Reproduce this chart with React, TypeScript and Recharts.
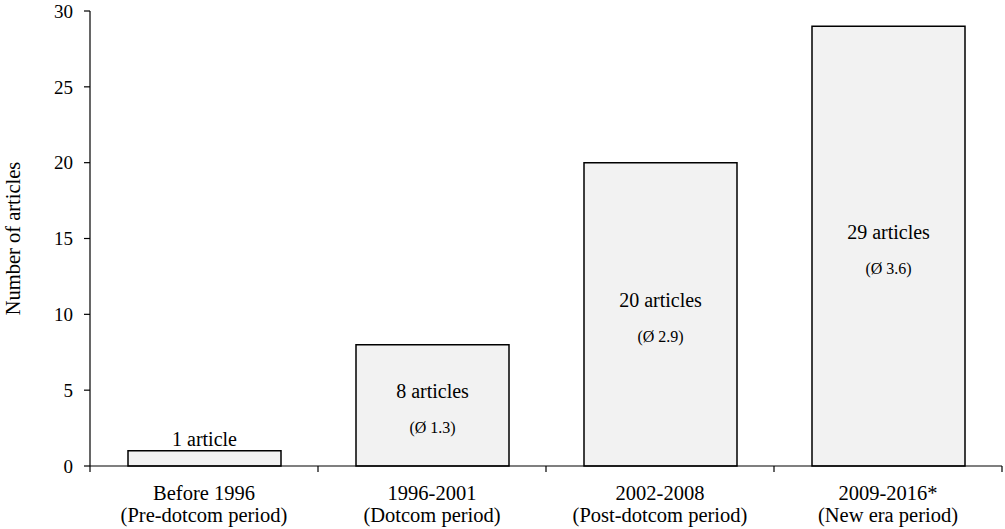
import React from 'react';
import { BarChart, Bar, XAxis, YAxis, LabelList } from 'recharts';

// Publication periods and the number of articles in each
const periods = ['Before 1996', '1996-2001', '2002-2008', '2009-2016*'];
const periodNames = ['(Pre-dotcom period)', '(Dotcom period)', '(Post-dotcom period)', '(New era period)'];
const articleCounts = [1, 8, 20, 29];
// Average number of articles per year (not shown for the first period)
const yearlyAverages: (number | null)[] = [null, 1.3, 2.9, 3.6];
const yTicks = [0, 5, 10, 15, 20, 25, 30];

const data = periods.map((period, i) => ({
  period,
  name: periodNames[i],
  articles: articleCounts[i],
  average: yearlyAverages[i],
}));

const WIDTH = 1005;
const HEIGHT = 529;
const MARGIN = { top: 11, right: 3, bottom: 0, left: 0 };
const Y_AXIS_WIDTH = 90;
const X_AXIS_HEIGHT = 63;
const HALF_BAND = (WIDTH - MARGIN.left - MARGIN.right - Y_AXIS_WIDTH) / periods.length / 2;

const FONT = "'Liberation Serif', 'Times New Roman', serif";
const INK = '#000';
const serif = (size: number) => ({ fontFamily: FONT, fontSize: size });

const PeriodTick = (props: any) => {
  const { x, y, payload, index } = props;
  const i = periods.indexOf(payload.value);
  const last = index === periods.length - 1;
  return (
    <g>
      <line x1={x - HALF_BAND} x2={x - HALF_BAND} y1={y} y2={y + 6} stroke={INK} strokeWidth={1.2} />
      {last && <line x1={x + HALF_BAND} x2={x + HALF_BAND} y1={y} y2={y + 6} stroke={INK} strokeWidth={1.2} />}
      <text x={x} y={y + 34} textAnchor="middle" style={serif(20.5)} fill={INK}>
        {payload.value}
      </text>
      <text x={x} y={y + 56} textAnchor="middle" style={serif(20.5)} fill={INK}>
        {periodNames[i]}
      </text>
    </g>
  );
};

const CountLabel = (props: any) => {
  const { x, y, width, height, value, index } = props;
  const cx = x + width / 2;
  const text = value === 1 ? `${value} article` : `${value} articles`;
  const avg = yearlyAverages[index];
  if (avg === null) {
    return (
      <text x={cx} y={y - 5} textAnchor="middle" style={serif(20)} fill={INK}>
        {text}
      </text>
    );
  }
  const cy = y + height / 2;
  return (
    <g>
      <text x={cx} y={cy - 7} textAnchor="middle" style={serif(20)} fill={INK}>
        {text}
      </text>
      <text x={cx} y={cy + 28} textAnchor="middle" style={serif(16)} fill={INK}>
        {`(Ø ${avg.toFixed(1)})`}
      </text>
    </g>
  );
};

const AxisTitle = (props: any) => {
  const vb = props.viewBox || { x: 0, y: MARGIN.top, width: Y_AXIS_WIDTH, height: HEIGHT - MARGIN.top - X_AXIS_HEIGHT };
  const tx = vb.x + 19.5;
  const ty = vb.y + vb.height / 2;
  return (
    <text
      x={tx}
      y={ty}
      textAnchor="middle"
      transform={`rotate(-90 ${tx} ${ty})`}
      style={serif(20.5)}
      fill={INK}
    >
      Number of articles
    </text>
  );
};

export default function App() {
  return (
    <div style={{ position: 'absolute', left: 0, top: 0, width: WIDTH, height: HEIGHT, background: '#fff' }}>
      <BarChart width={WIDTH} height={HEIGHT} data={data} margin={MARGIN}>
        <XAxis
          dataKey="period"
          height={X_AXIS_HEIGHT}
          interval={0}
          tickLine={false}
          tickSize={0}
          tickMargin={0}
          axisLine={{ stroke: INK, strokeWidth: 1.2 }}
          tick={<PeriodTick />}
        />
        <YAxis
          width={Y_AXIS_WIDTH}
          domain={[0, 30]}
          ticks={yTicks}
          interval={0}
          tickSize={6}
          tickMargin={11}
          axisLine={{ stroke: INK, strokeWidth: 1.2 }}
          tickLine={{ stroke: INK, strokeWidth: 1.2 }}
          tick={{ style: serif(19), fill: INK }}
          label={<AxisTitle />}
        />
        <Bar
          dataKey="articles"
          barSize={153}
          fill="#f2f2f2"
          stroke={INK}
          strokeWidth={1.5}
          isAnimationActive={false}
        >
          <LabelList dataKey="articles" content={<CountLabel />} />
        </Bar>
      </BarChart>
    </div>
  );
}
